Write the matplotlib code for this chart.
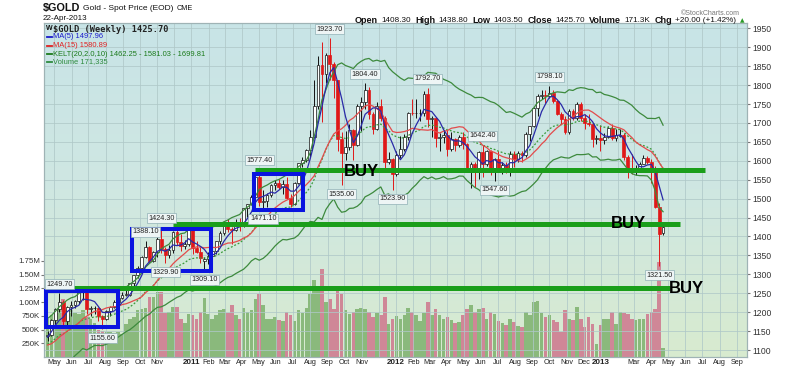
import numpy as np
import pandas as pd
import matplotlib
matplotlib.use("Agg")
import matplotlib.pyplot as plt
import matplotlib.dates as mdates
from matplotlib.colors import LinearSegmentedColormap
from matplotlib.patches import Rectangle
from matplotlib.lines import Line2D

plt.rcParams["font.family"] = ["Liberation Sans", "DejaVu Sans"]

W, H = 800, 366

# weekly bars of $GOLD, week of 19-Apr-2010 .. week of 22-Apr-2013
opens = [
    1136, 1140, 1180, 1209, 1228, 1176, 1213, 1218, 1229, 1256,
    1256, 1208, 1210, 1210, 1189, 1181, 1204, 1215, 1227, 1237,
    1246, 1246, 1276, 1297, 1318, 1345, 1372, 1335, 1358, 1394,
    1366, 1352, 1363, 1413, 1385, 1375, 1380, 1418, 1369, 1360,
    1336, 1340, 1349, 1361, 1388, 1410, 1429, 1421, 1418, 1430,
    1429, 1474, 1486, 1504, 1556, 1491, 1493, 1510, 1536, 1542,
    1530, 1539, 1502, 1486, 1542, 1594, 1601, 1628, 1663, 1745,
    1852, 1828, 1880, 1857, 1813, 1657, 1620, 1636, 1682, 1643,
    1746, 1755, 1788, 1724, 1685, 1746, 1712, 1598, 1605, 1565,
    1616, 1630, 1664, 1727, 1725, 1725, 1725, 1777, 1711, 1712,
    1659, 1662, 1669, 1631, 1657, 1642, 1664, 1645, 1580, 1592,
    1572, 1622, 1591, 1627, 1572, 1604, 1580, 1590, 1582, 1619,
    1604, 1620, 1616, 1671, 1691, 1740, 1772, 1774, 1772, 1780,
    1757, 1724, 1711, 1676, 1731, 1714, 1751, 1712, 1701, 1696,
    1657, 1659, 1656, 1662, 1687, 1659, 1666, 1667, 1609, 1574,
    1572, 1577, 1592, 1608, 1596, 1576, 1477, 1408.3,
]
highs = [
    1151, 1183, 1211, 1249.7, 1232, 1216, 1229, 1232, 1258, 1262,
    1265, 1216, 1217, 1214, 1193, 1206, 1216, 1231, 1242, 1253,
    1258, 1278, 1298, 1321, 1349, 1388.1, 1374, 1362, 1398, 1424.3,
    1373, 1377, 1415, 1420, 1407, 1392, 1422, 1423, 1389, 1373,
    1346, 1359, 1371, 1389, 1414, 1440, 1445, 1426, 1447, 1448,
    1476, 1487, 1509, 1569, 1577.4, 1523, 1515, 1539, 1550, 1552,
    1549, 1558, 1512, 1544, 1594, 1610, 1632, 1681, 1814, 1877,
    1913, 1885, 1923.7, 1862, 1814, 1675, 1679, 1696, 1684, 1749,
    1768, 1804.4, 1794, 1728, 1754, 1764, 1719, 1624, 1607, 1626,
    1665, 1672, 1730, 1764, 1763, 1738, 1784, 1792.7, 1717, 1716,
    1673, 1682, 1682, 1676, 1660, 1667, 1677, 1648, 1596, 1596,
    1627, 1642.4, 1628, 1628, 1607, 1626, 1596, 1597, 1626, 1625,
    1625, 1625, 1675, 1693, 1742, 1777, 1787, 1787, 1798.1, 1786,
    1761, 1728, 1717, 1736, 1736, 1754, 1755, 1724, 1723, 1698,
    1668, 1694, 1673, 1693, 1696, 1684, 1683, 1674, 1616, 1619,
    1590, 1597, 1616, 1613, 1605, 1586, 1488, 1438.8,
]
lows = [
    1123, 1138, 1164, 1201, 1166, 1166, 1191, 1210, 1221, 1232,
    1194, 1191, 1196, 1176, 1155.6, 1179, 1191, 1212, 1223, 1235,
    1242, 1243, 1269, 1290, 1310, 1342, 1331, 1333, 1345, 1357,
    1329.9, 1342, 1357, 1378, 1361, 1368, 1375, 1354, 1356, 1331,
    1309.1, 1327, 1337, 1355, 1380, 1405, 1411, 1381, 1415, 1414,
    1424, 1452, 1482, 1496, 1480, 1471.1, 1478, 1505, 1523, 1525,
    1512, 1498, 1478, 1483, 1538, 1583, 1598, 1610, 1660, 1738,
    1703, 1805, 1813, 1765, 1627, 1535, 1603, 1629, 1603, 1640,
    1678, 1737, 1711, 1672, 1680, 1704, 1575, 1591, 1523.9, 1560,
    1608, 1625, 1654, 1721, 1714, 1705, 1718, 1688, 1662, 1636,
    1627, 1647, 1612, 1626, 1626, 1637, 1632, 1577, 1527, 1532,
    1551, 1558, 1585, 1562, 1547.6, 1575, 1565, 1567, 1561, 1584,
    1598, 1598, 1610, 1652, 1688, 1719, 1763, 1753, 1765, 1752,
    1720, 1697, 1672, 1671, 1708, 1708, 1705, 1684, 1692, 1636,
    1645, 1626, 1645, 1660, 1656, 1652, 1662, 1603, 1555, 1565,
    1562, 1573, 1591, 1591, 1540, 1475, 1321.5, 1403.5,
]
closes = [
    1140, 1180, 1209, 1228, 1176, 1213, 1218, 1229, 1256, 1256,
    1208, 1210, 1210, 1189, 1181, 1204, 1215, 1227, 1237, 1246,
    1246, 1276, 1297, 1318, 1345, 1372, 1335, 1358, 1394, 1366,
    1352, 1363, 1413, 1385, 1375, 1380, 1418, 1369, 1360, 1342,
    1340, 1349, 1361, 1388, 1410, 1429, 1421, 1418, 1430, 1429,
    1474, 1486, 1504, 1556, 1491, 1493, 1510, 1536, 1542, 1530,
    1539, 1502, 1486, 1542, 1594, 1601, 1628, 1663, 1745, 1852,
    1828, 1880, 1857, 1813, 1657, 1620, 1636, 1682, 1643, 1746,
    1755, 1788, 1724, 1685, 1746, 1712, 1598, 1605, 1565, 1616,
    1630, 1664, 1727, 1725, 1725, 1725, 1777, 1711, 1712, 1659,
    1662, 1669, 1631, 1657, 1642, 1664, 1645, 1580, 1592, 1572,
    1622, 1591, 1627, 1572, 1604, 1580, 1590, 1582, 1619, 1604,
    1620, 1616, 1671, 1691, 1740, 1772, 1774, 1772, 1780, 1757,
    1724, 1711, 1676, 1731, 1714, 1751, 1712, 1701, 1696, 1657,
    1659, 1656, 1662, 1687, 1659, 1667, 1667, 1609, 1572, 1572,
    1577, 1592, 1608, 1596, 1579, 1477, 1405.7, 1425.7,
]
volumes_k = [
    690, 760, 790, 870, 1060, 860, 850, 800, 790, 860,
    720, 690, 620, 500, 480, 460, 450, 440, 460, 420,
    600, 690, 720, 860, 870, 900, 1090, 1100, 1190, 1190,
    800, 820, 910, 910, 690, 620, 790, 760, 700, 820,
    1080, 780, 700, 760, 850, 870, 800, 950, 760, 700,
    900, 820, 860, 1060, 1150, 950, 700, 690, 720, 680,
    650, 820, 760, 650, 860, 800, 900, 1150, 1410, 1250,
    1600, 1000, 1050, 880, 1300, 1150, 850, 780, 820, 880,
    900, 870, 820, 720, 800, 760, 1100, 600, 700, 750,
    700, 760, 900, 820, 760, 650, 800, 1000, 760, 880,
    760, 700, 720, 680, 620, 640, 760, 880, 950, 820,
    880, 900, 700, 820, 780, 650, 620, 580, 700, 640,
    560, 540, 820, 760, 1000, 1020, 800, 720, 760, 680,
    640, 456, 860, 700, 675, 912, 693, 547, 730, 600,
    237, 584, 693, 693, 820, 602, 820, 800, 780, 693,
    675, 693, 700, 785, 820, 876, 1730, 171.335,
]
# weeks before the first bar (Dec-2009 .. Apr-2010), only used to seed the indicators
warmup_highs = [1105, 1140, 1162, 1140, 1105, 1123, 1093, 1127, 1122, 1141, 1135, 1127, 1109, 1130, 1169, 1167]
warmup_lows = [1085, 1096, 1120, 1083, 1076, 1044, 1058, 1084, 1086, 1110, 1102, 1098, 1086, 1101, 1125, 1122]
warmup_closes = [1096, 1138, 1130, 1091, 1081, 1064, 1092, 1116, 1117, 1133, 1102, 1105, 1105, 1126, 1161, 1136]

# labelled highs / lows (bar index, side)
marked_bars = [(3, "high"), (14, "low"), (25, "high"), (29, "high"), (30, "low"),
               (40, "low"), (54, "high"), (55, "low"), (72, "high"), (75, "low"),
               (81, "high"), (88, "low"), (97, "high"), (111, "high"), (114, "low"),
               (128, "high"), (156, "low")]

month_labels = ["May", "Jun", "Jul", "Aug", "Sep", "Oct", "Nov", "",
                "2011", "Feb", "Mar", "Apr", "May", "Jun", "Jul", "Aug", "Sep", "Oct", "Nov", "",
                "2012", "Feb", "Mar", "Apr", "May", "Jun", "Jul", "Aug", "Sep", "Oct", "Nov", "Dec",
                "2013", "", "Mar", "Apr", "May", "Jun", "Jul", "Aug", "Sep"]

weeks = pd.date_range("2010-04-19", periods=len(closes), freq="W-MON")
o = np.array(opens)
h = np.array(highs)
l = np.array(lows)
c = np.array(closes)
v = np.array(volumes_k) * 1000


def wk(k):
    return weeks[0] + pd.Timedelta(days=7 * k)


# indicators
n0 = len(warmup_closes)
hc = pd.Series(warmup_closes + closes, dtype=float)
hh = pd.Series(warmup_highs + highs, dtype=float)
hl = pd.Series(warmup_lows + lows, dtype=float)
ma5 = hc.rolling(5, min_periods=1).mean().values[n0:]
ma15 = hc.rolling(15, min_periods=1).mean().values[n0:]
ema20 = hc.ewm(span=20, adjust=False).mean()
prev = hc.shift(1).fillna(hc)
tr = pd.concat([hh - hl, (hh - prev).abs(), (hl - prev).abs()], axis=1).max(axis=1)
atr = tr.ewm(alpha=0.1, adjust=False).mean()
kelt_mid = ema20.values[n0:]
kelt_up = (ema20 + 2 * atr).values[n0:]
kelt_lo = (ema20 - 2 * atr).values[n0:]

fig = plt.figure(figsize=(W / 100, H / 100), dpi=100)
rect = [44 / W, (H - 357) / H, (747 - 44) / W, (357 - 22.7) / H]
axv = fig.add_axes(rect)
ax = fig.add_axes(rect, sharex=axv)
ax.patch.set_visible(False)

# background gradient
bg = LinearSegmentedColormap.from_list("bg", ["#d8ebcf", "#cfe7e2", "#c8e4e7"])
axv.imshow(np.linspace(0, 1, 256).reshape(-1, 1), extent=(0, 1, 0, 1), transform=axv.transAxes,
           origin="lower", aspect="auto", cmap=bg, zorder=0)

# volume
up = c >= o
vcol = np.where(up, "#8ab97c", "#cf8797")
axv.bar(weeks, v, width=6.4, color=vcol, linewidth=0, zorder=1)
axv.set_ylim(0, 6.09e6)
axv.yaxis.tick_left()
vt = [250e3, 500e3, 750e3, 1.0e6, 1.25e6, 1.5e6, 1.75e6]
axv.set_yticks(vt)
axv.set_yticklabels(["250K", "500K", "750K", "1.00M", "1.25M", "1.50M", "1.75M"])
axv.tick_params(axis="y", labelsize=5.7, length=2, pad=1, colors="#333", color="#777")

# grid
ax.set_axisbelow(True)
ax.grid(True, color="#afc8c8", lw=0.6, alpha=0.9)

# candles
edge = np.where(up, "#111111", "#e01818")
face = np.where(up, "#ffffff", "#e01818")
ax.vlines(weeks, l, h, colors=edge, lw=0.7, zorder=2)
body_lo = np.minimum(o, c)
body_h = np.maximum(np.abs(c - o), 1.2)
ax.bar(weeks, body_h, bottom=body_lo, width=5.0, color=face, edgecolor=edge, lw=0.5, zorder=3)

# overlays
ax.plot(weeks, kelt_up, color="#3d8a3d", lw=0.9, zorder=4)
ax.plot(weeks, kelt_lo, color="#3d8a3d", lw=0.9, zorder=4)
ax.plot(weeks, kelt_mid, color="#3a9a3a", lw=0.9, ls=(0, (1.5, 1.5)), zorder=4)
ax.plot(weeks, ma15, color="#e34b4b", lw=0.9, zorder=4)
ax.plot(weeks, ma5, color="#2a2aa8", lw=0.9, zorder=4)

# labelled extremes
for i, side in marked_bars:
    val = h[i] if side == "high" else l[i]
    dy = 6.5 if side == "high" else -6.5
    ax.annotate(f"{val:.2f}", xy=(weeks[i], val), xytext=(0, dy), textcoords="offset points",
                ha="center", va="center", fontsize=5.2, color="#222", zorder=7.5,
                bbox=dict(boxstyle="square,pad=0.2", fc="#eef5f5", ec="#8fb0b5", lw=0.5))

# hand-drawn support lines, boxes and BUY marks
for a, b, p in [(52.9, 167.7, 1575.6), (32.0, 161.3, 1432.9), (3.0, 158.8, 1263.9)]:
    ax.plot([wk(a), wk(b)], [p, p], color="#1a9e1a", lw=3.6, solid_capstyle="butt", zorder=6)
for a, b, p0, p1 in [(-0.4, 18.0, 1160, 1255), (21.6, 41.7, 1309, 1420), (52.6, 65.2, 1471, 1566)]:
    x0 = mdates.date2num(wk(a).to_pydatetime())
    x1 = mdates.date2num(wk(b).to_pydatetime())
    ax.add_patch(Rectangle((x0, p0), x1 - x0, p1 - p0, fill=False, ec="#0a14e0", lw=2.9, zorder=7))
for k, p in [(80, 1571), (148.1, 1433), (162.9, 1262)]:
    ax.text(wk(k), p, "BUY", fontsize=12, fontweight="bold", ha="center", va="center",
            color="black", zorder=8)

# axes
ax.set_ylim(1081.6, 1964.8)
ax.yaxis.tick_right()
ax.set_yticks(range(1100, 1951, 50))
ax.tick_params(axis="y", labelsize=6.2, length=2.5, pad=1.5, colors="#333", color="#777")
ax.set_xlim(wk(-0.9), wk(178.4))
months = pd.date_range("2010-05-01", "2013-09-01", freq="MS")
axv.set_xticks(months)
axv.set_xticklabels(month_labels)
axv.tick_params(axis="x", labelsize=5.2, length=0, pad=1.5, colors="#222")
ax.tick_params(axis="x", labelbottom=False, length=0)
for t in axv.get_xticklabels():
    if t.get_text().isdigit():
        t.set_fontweight("bold")
        t.set_fontsize(5.8)
for a in (ax, axv):
    for s in a.spines.values():
        s.set_color("#9fb3b5")
        s.set_linewidth(0.8)

renderer = fig.canvas.get_renderer()


def ftext(x, y, s, **kw):
    return fig.text(x / W, 1 - y / H, s, va="center", **kw)


def run(x, y, pieces):
    # lay text pieces out one after another, left to right
    for s, gap, kw in pieces:
        t = ftext(x, y, s, **kw)
        x += t.get_window_extent(renderer).width + gap
    return x


# header
run(43, 8, [("$GOLD", 3, dict(fontsize=7.8, fontweight="bold", color="#111")),
            ("Gold - Spot Price (EOD)", 3, dict(fontsize=6.0, color="#111")),
            ("CME", 0, dict(fontsize=5.2, color="#111"))])
ftext(43, 18, "22-Apr-2013", fontsize=5.8, color="#111")
ftext(740, 13.2, "\u00a9StockCharts.com", fontsize=5.0, color="#777", ha="right")
B = dict(fontsize=6.5, fontweight="bold", color="#111")
N = dict(fontsize=5.9, color="#111")
run(355, 20.8, [("Open", 3, B), ("1408.30", 4.5, N), ("High", 3, B), ("1438.80", 4.5, N),
                ("Low", 3, B), ("1403.50", 4.5, N), ("Close", 3, B), ("1425.70", 4.5, N),
                ("Volume", 3, B), ("171.3K", 4.5, N), ("Chg", 3, B), ("+20.00 (+1.42%)", 4, N),
                ("\u25b2", 0, dict(fontsize=4.2, color="#2a9a2a", family="DejaVu Sans"))])

# legend
ftext(46, 29, "W", fontsize=5, fontweight="bold", color="#111")
ftext(53, 29, "$GOLD (Weekly) 1425.70", fontsize=6.2, fontweight="bold", color="#222",
      family="DejaVu Sans Mono")
for y, s, col in [(36.8, "MA(5) 1497.96", "#1a1acc"), (45.5, "MA(15) 1580.89", "#e02020"),
                  (54, "KELT(20,2.0,10) 1462.25 - 1581.03 - 1699.81", "#1a7a1a"),
                  (62, "Volume 171,335", "#2e8b3e")]:
    fig.add_artist(Line2D([47 / W, 52 / W], [1 - y / H] * 2, color=col, lw=1.3))
    ftext(53, y, s, fontsize=5.4, color=col)

fig.savefig("out.png", dpi=100)
